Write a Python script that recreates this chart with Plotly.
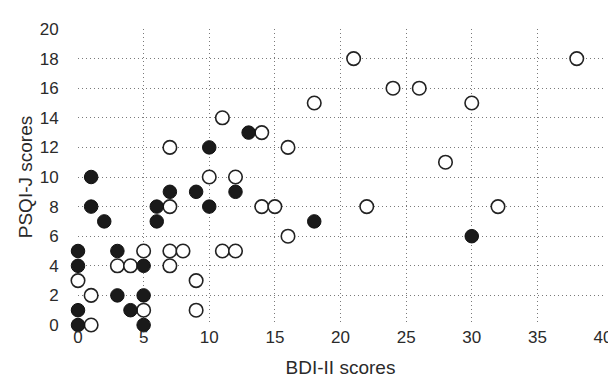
import plotly.graph_objects as go

# Filled (black) points
filled_x = [0, 0, 0, 0, 1, 1, 2, 3, 3, 4, 5, 5, 5, 6, 6, 7, 9, 10, 10, 12, 13, 18, 30]
filled_y = [0, 1, 4, 5, 8, 10, 7, 5, 2, 1, 4, 2, 0, 8, 7, 9, 9, 8, 12, 9, 13, 7, 6]

# Open (white) points
open_x = [0, 1, 1, 3, 4, 5, 5, 7, 7, 8, 7, 9, 9, 11, 12, 10, 12, 7, 11, 14, 16, 18,
          21, 24, 26, 14, 15, 16, 22, 28, 30, 32, 38]
open_y = [3, 2, 0, 4, 4, 5, 1, 4, 5, 5, 8, 3, 1, 5, 5, 10, 10, 12, 14, 13, 12, 15,
          18, 16, 16, 8, 8, 6, 8, 11, 15, 8, 18]

x_ticks = [0, 5, 10, 15, 20, 25, 30, 35, 40]
y_ticks = [0, 2, 4, 6, 8, 10, 12, 14, 16, 18, 20]

FONT = "Liberation Sans, Arial, sans-serif"

fig = go.Figure()
fig.add_trace(go.Scatter(
    x=open_x, y=open_y, mode="markers",
    marker=dict(size=13.5, color="white", line=dict(color="#222", width=1.6)),
    cliponaxis=False, showlegend=False))
fig.add_trace(go.Scatter(
    x=filled_x, y=filled_y, mode="markers",
    marker=dict(size=13.5, color="#1a1a1a", line=dict(color="#111", width=1)),
    cliponaxis=False, showlegend=False))

grid = dict(showgrid=True, gridcolor="#7a7a7a", griddash="1px,3px", gridwidth=1,
            zeroline=False, showline=False,
            tickfont=dict(family=FONT, size=17, color="#2a2a2a"))

fig.update_layout(
    width=616, height=378,
    margin=dict(l=70, r=13, t=20, b=60),
    paper_bgcolor="white", plot_bgcolor="white",
    xaxis=dict(range=[0, 40], tickvals=x_ticks, ticktext=[str(v) for v in x_ticks],
               ticks="",
               title=dict(text="BDI-II scores", standoff=14,
                          font=dict(family=FONT, size=19, color="#2a2a2a")),
               **grid),
    yaxis=dict(range=[0, 20], tickvals=y_ticks, ticktext=[str(v) for v in y_ticks],
               ticks="outside", ticklen=15, tickcolor="rgba(0,0,0,0)",
               title=dict(text="PSQI-J scores", standoff=2,
                          font=dict(family=FONT, size=19, color="#2a2a2a")),
               **grid),
)
fig.write_html("out.html")
